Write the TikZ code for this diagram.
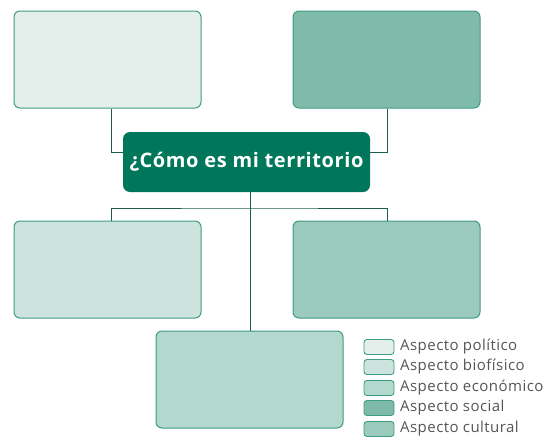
\documentclass[tikz,border=0pt]{standalone}
\usepackage{fontspec}
\setmainfont{Open Sans}
\newfontfamily\legfont[LetterSpace=3]{Open Sans}
\newfontfamily\titfont[LetterSpace=3]{Open Sans Bold}
\begin{document}
\begin{tikzpicture}[x=1pt,y=-1pt,
  box/.style={draw=bordc, line width=1pt, rounded corners=6pt, minimum width=187pt, minimum height=97pt, inner sep=0pt},
  swatch/.style={draw=bordc, line width=0.9pt, rounded corners=3pt, minimum width=30pt, minimum height=15pt, inner sep=0pt},
  conn/.style={draw=connc, line width=0.7pt},
  legtext/.style={anchor=west, text=legc, font=\legfont\fontsize{15}{17}\selectfont, inner sep=0pt}]
\definecolor{bordc}{HTML}{3E9C84}
\definecolor{connc}{HTML}{1E5E4E}
\definecolor{legc}{HTML}{555555}
\definecolor{cpol}{HTML}{E4EFEC}
\definecolor{cbio}{HTML}{CCE4DD}
\definecolor{ceco}{HTML}{B3D8CE}
\definecolor{csoc}{HTML}{80BBA9}
\definecolor{ccul}{HTML}{9CCABC}
\definecolor{ccen}{HTML}{00775A}
\useasboundingbox (0,0) rectangle (553,439);
\node[box, fill=cpol] (tl) at (107.5,59.5) {};
\node[box, fill=csoc] (tr) at (386.5,59.5) {};
\node[box, fill=cbio] (ml) at (107.5,269.5) {};
\node[box, fill=ccul] (mr) at (386.5,269.5) {};
\node[box, fill=ceco] (bt) at (249.5,379.5) {};
\node[fill=ccen, rounded corners=7pt, minimum width=247pt, minimum height=60pt, inner sep=0pt, text=white, font=\titfont\fontsize{20}{23}\selectfont] (c) at (246.5,162) {¿Cómo es mi territorio};
\coordinate (j) at (250,208);
\draw[conn] (tl.south -| 111,0) |- (c.west |- 0,152);
\draw[conn] (tr.south -| 387,0) |- (c.east |- 0,152);
\draw[conn] (c.south -| j) -- (bt.north -| j);
\draw[conn] (ml.north -| 111,0) |- (j) -| (mr.north -| 387,0);
\node[swatch, fill=cpol] (s1) at (379,347) {};
\node[swatch, fill=cbio] (s2) at (379,367) {};
\node[swatch, fill=ceco] (s3) at (379,388) {};
\node[swatch, fill=csoc] (s4) at (379,408) {};
\node[swatch, fill=ccul] (s5) at (379,429) {};
\node[legtext] (l1) at (400,347) {Aspecto político};
\node[legtext] (l2) at (400,367) {Aspecto biofísico};
\node[legtext] (l3) at (400,388) {Aspecto económico};
\node[legtext] (l4) at (400,408) {Aspecto social};
\node[legtext] (l5) at (400,429) {Aspecto cultural};
\end{tikzpicture}
\end{document}
